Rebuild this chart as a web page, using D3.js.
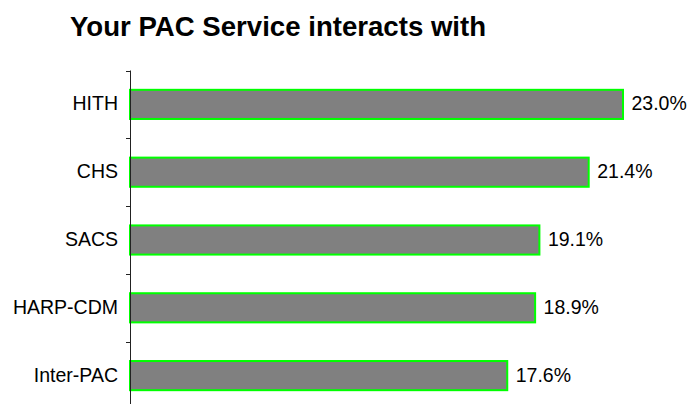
<!DOCTYPE html>
<html>
<head>
<meta charset="utf-8">
<script src="https://cdn.jsdelivr.net/npm/d3@7"></script>
<style>
  html, body { margin: 0; padding: 0; background: #fff; }
  svg { display: block; font-family: Arial, "Liberation Sans", sans-serif; }
</style>
</head>
<body>
<svg id="chart" width="688" height="404"></svg>
<script>
// Share of PAC services that interact with each partner
const categories = ["HITH", "CHS", "SACS", "HARP-CDM", "Inter-PAC"];
const shares = [23.0, 21.4, 19.1, 18.9, 17.6];
const valueLabels = ["23.0%", "21.4%", "19.1%", "18.9%", "17.6%"];
const chartTitle = "Your PAC Service interacts with";

const svg = d3.select("#chart");

const x = d3.scaleLinear().domain([0, 23]).range([130, 623]);
const y = d3.scaleBand()
  .domain(categories)
  .range([70.5, 409.5])
  .paddingInner(0.57)
  .paddingOuter(0.285);

// Title
svg.append("text")
  .attr("x", 70)
  .attr("y", 36)
  .attr("font-size", 27.6)
  .attr("font-weight", "bold")
  .attr("fill", "#000")
  .text(chartTitle);

// Bars
const rows = categories.map((c, i) => ({ cat: c, value: shares[i], label: valueLabels[i] }));

svg.append("g").selectAll("rect")
  .data(rows)
  .join("rect")
  .attr("x", x(0))
  .attr("y", d => y(d.cat))
  .attr("width", d => x(d.value) - x(0))
  .attr("height", y.bandwidth())
  .attr("fill", "#808080")
  .attr("stroke", "#00ff00")
  .attr("stroke-width", 2);

// Category axis: vertical line with ticks between the bands
const step = y.step();
const axisTop = y.range()[0];
const axis = svg.append("g").attr("stroke", "#222").attr("stroke-width", 1);
axis.append("line")
  .attr("x1", x(0) + 0.5).attr("x2", x(0) + 0.5)
  .attr("y1", axisTop).attr("y2", 404);
axis.selectAll("line.tick")
  .data(d3.range(categories.length))
  .join("line")
  .attr("class", "tick")
  .attr("x1", x(0) - 4).attr("x2", x(0) + 0.5)
  .attr("y1", i => Math.round(axisTop + i * step) + 0.5)
  .attr("y2", i => Math.round(axisTop + i * step) + 0.5);

// Category labels
svg.append("g").selectAll("text")
  .data(rows)
  .join("text")
  .attr("x", 118)
  .attr("y", d => y(d.cat) + y.bandwidth() / 2 + 6)
  .attr("text-anchor", "end")
  .attr("font-size", 19.5)
  .attr("fill", "#000")
  .text(d => d.cat);

// Value labels
svg.append("g").selectAll("text")
  .data(rows)
  .join("text")
  .attr("x", d => x(d.value) + 8.5)
  .attr("y", d => y(d.cat) + y.bandwidth() / 2 + 6)
  .attr("font-size", 19.5)
  .attr("fill", "#000")
  .text(d => d.label);
</script>
</body>
</html>
